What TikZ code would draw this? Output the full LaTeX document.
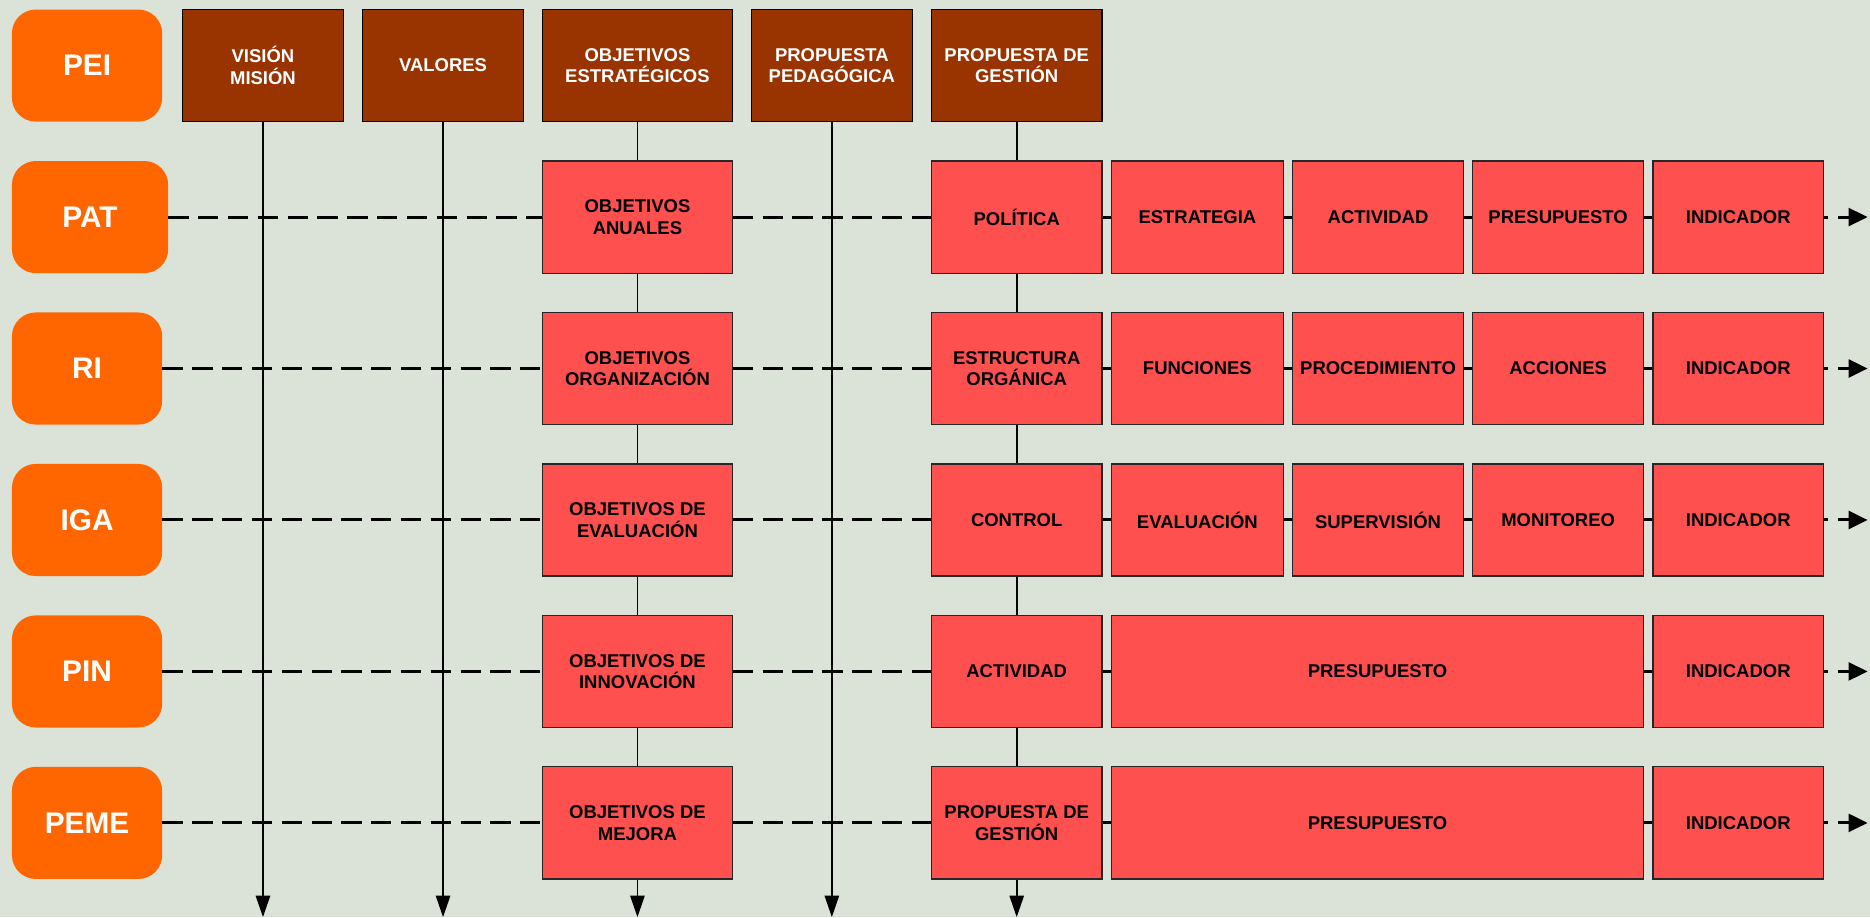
\documentclass[tikz,border=0pt]{standalone}
\usepackage{fontspec}
\setmainfont{Liberation Sans}
\usetikzlibrary{arrows.meta}
\definecolor{bgc}{RGB}{219,226,216}
\definecolor{orng}{RGB}{255,102,0}
\definecolor{brwn}{RGB}{153,51,0}
\definecolor{redb}{RGB}{255,80,80}
\begin{document}
\begin{tikzpicture}[x=1pt,y=-1pt,
  lbl/.style={rounded corners=20pt, fill=orng, text=white, font=\fontsize{25}{29}\selectfont\bfseries, minimum height=94pt, inner sep=0pt},
  hdr/.style={fill=brwn, draw=black, line width=1pt, text=white, font=\fontsize{15.5}{18}\selectfont\bfseries, align=center, minimum height=94pt, inner sep=0pt},
  rbox/.style={fill=redb, draw=black!85, line width=1pt, text=black, font=\fontsize{15.5}{18}\selectfont\bfseries, align=center, minimum height=94pt, inner sep=0pt},
  vline/.style={line width=1.5pt, -{Triangle[length=18pt,width=12pt]}},
  seg/.style={line width=1.5pt},
  dline/.style={line width=2.5pt, dash pattern=on 17pt off 8pt},
  darr/.style={line width=2.5pt, dash pattern=on 3pt off 9pt on 40pt, -{Triangle[length=16pt,width=15pt]}}]
\useasboundingbox (0,0) rectangle (1568,769);
\fill[bgc] (0,0) rectangle (1568,769);

% left labels
\node[lbl, minimum width=126pt] (pei)  at (73,55)  {PEI};
\node[lbl, minimum width=131pt] (pat)  at (75.5,182) {PAT};
\node[lbl, minimum width=126pt] (ri)   at (73,309) {RI};
\node[lbl, minimum width=126pt] (iga)  at (73,436) {IGA};
\node[lbl, minimum width=126pt] (pin)  at (73,563) {PIN};
\node[lbl, minimum width=126pt] (peme) at (73,690) {PEME};

% headers
\node[hdr, minimum width=135pt] (hvis) at (220.5,55) {VISIÓN\\MISIÓN};
\node[hdr, minimum width=135pt] (hval) at (371.5,55) {VALORES};
\node[hdr, minimum width=159pt] (hobj) at (534.5,55) {OBJETIVOS\\ESTRATÉGICOS};
\node[hdr, minimum width=135pt] (hped) at (697.5,55) {PROPUESTA\\PEDAGÓGICA};
\node[hdr, minimum width=143pt] (hges) at (852.5,55) {PROPUESTA DE\\GESTIÓN};

% row 1
\node[rbox, minimum width=159pt] (a1) at (534.5,182) {OBJETIVOS\\ANUALES};
\node[rbox, minimum width=143pt] (b1) at (852.5,182) {POLÍTICA};
\node[rbox, minimum width=144pt] (c1) at (1004,182) {ESTRATEGIA};
\node[rbox, minimum width=143pt] (d1) at (1155.5,182) {ACTIVIDAD};
\node[rbox, minimum width=143pt] (e1) at (1306.5,182) {PRESUPUESTO};
\node[rbox, minimum width=143pt] (f1) at (1457.5,182) {INDICADOR};
% row 2
\node[rbox, minimum width=159pt] (a2) at (534.5,309) {OBJETIVOS\\ORGANIZACIÓN};
\node[rbox, minimum width=143pt] (b2) at (852.5,309) {ESTRUCTURA\\ORGÁNICA};
\node[rbox, minimum width=144pt] (c2) at (1004,309) {FUNCIONES};
\node[rbox, minimum width=143pt] (d2) at (1155.5,309) {PROCEDIMIENTO};
\node[rbox, minimum width=143pt] (e2) at (1306.5,309) {ACCIONES};
\node[rbox, minimum width=143pt] (f2) at (1457.5,309) {INDICADOR};
% row 3
\node[rbox, minimum width=159pt] (a3) at (534.5,436) {OBJETIVOS DE\\EVALUACIÓN};
\node[rbox, minimum width=143pt] (b3) at (852.5,436) {CONTROL};
\node[rbox, minimum width=144pt] (c3) at (1004,436) {EVALUACIÓN};
\node[rbox, minimum width=143pt] (d3) at (1155.5,436) {SUPERVISIÓN};
\node[rbox, minimum width=143pt] (e3) at (1306.5,436) {MONITOREO};
\node[rbox, minimum width=143pt] (f3) at (1457.5,436) {INDICADOR};
% row 4
\node[rbox, minimum width=159pt] (a4) at (534.5,563) {OBJETIVOS DE\\INNOVACIÓN};
\node[rbox, minimum width=143pt] (b4) at (852.5,563) {ACTIVIDAD};
\node[rbox, minimum width=446pt] (m4) at (1155,563) {PRESUPUESTO};
\node[rbox, minimum width=143pt] (f4) at (1457.5,563) {INDICADOR};
% row 5
\node[rbox, minimum width=159pt] (a5) at (534.5,690) {OBJETIVOS DE\\MEJORA};
\node[rbox, minimum width=143pt] (b5) at (852.5,690) {PROPUESTA DE\\GESTIÓN};
\node[rbox, minimum width=446pt] (m5) at (1155,690) {PRESUPUESTO};
\node[rbox, minimum width=143pt] (f5) at (1457.5,690) {INDICADOR};

% bottom and right end points
\coordinate (bvis) at (220.5,769);
\coordinate (bval) at (371.5,769);
\coordinate (bobj) at (534.5,769);
\coordinate (bped) at (697.5,769);
\coordinate (bges) at (852.5,769);
\coordinate (r1) at (1566,182);
\coordinate (r2) at (1566,309);
\coordinate (r3) at (1566,436);
\coordinate (r4) at (1566,563);
\coordinate (r5) at (1566,690);

% vertical connectors
\draw[vline] (hvis.south) -- (bvis);
\draw[vline] (hval.south) -- (bval);
\draw[vline] (hped.south) -- (bped);
\draw[seg] (hobj.south) -- (a1.north);
\draw[seg] (a1.south) -- (a2.north);
\draw[seg] (a2.south) -- (a3.north);
\draw[seg] (a3.south) -- (a4.north);
\draw[seg] (a4.south) -- (a5.north);
\draw[vline] (a5.south) -- (bobj);
\draw[seg] (hges.south) -- (b1.north);
\draw[seg] (b1.south) -- (b2.north);
\draw[seg] (b2.south) -- (b3.north);
\draw[seg] (b3.south) -- (b4.north);
\draw[seg] (b4.south) -- (b5.north);
\draw[vline] (b5.south) -- (bges);

% dashed row connectors
\foreach \i/\l in {1/pat,2/ri,3/iga}{
  \draw[dline] (\l.east) -- (a\i.west);
  \draw[dline] (a\i.east) -- (b\i.west);
  \draw[dline] (b\i.east) -- (c\i.west);
  \draw[dline] (c\i.east) -- (d\i.west);
  \draw[dline] (d\i.east) -- (e\i.west);
  \draw[dline] (e\i.east) -- (f\i.west);
  \draw[darr] (f\i.east) -- (r\i);
}
\foreach \i/\l in {4/pin,5/peme}{
  \draw[dline] (\l.east) -- (a\i.west);
  \draw[dline] (a\i.east) -- (b\i.west);
  \draw[dline] (b\i.east) -- (m\i.west);
  \draw[dline] (m\i.east) -- (f\i.west);
  \draw[darr] (f\i.east) -- (r\i);
}
\end{tikzpicture}
\end{document}
